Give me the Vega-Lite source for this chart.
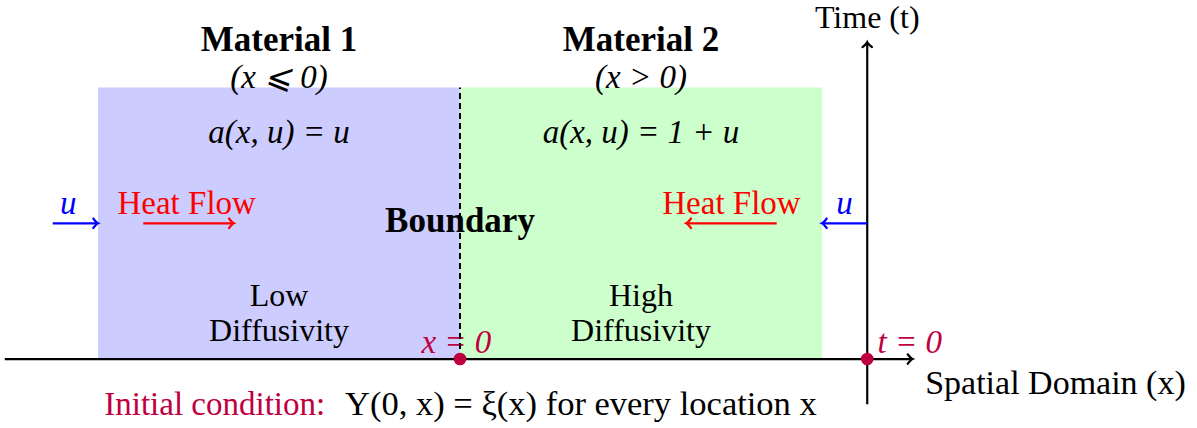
{
  "$schema": "https://vega.github.io/schema/vega-lite/v6.json",
  "width": 1197,
  "height": 428,
  "autosize": {"type": "fit", "contains": "padding"},
  "padding": 0,
  "background": "white",
  "config": {"view": {"stroke": null}},
  "encoding": {
    "x": {"field": "x", "type": "quantitative", "scale": {"domain": [-5.083, 8.144], "nice": false, "zero": false}, "axis": null},
    "y": {"field": "y", "type": "quantitative", "scale": {"domain": [-0.762, 3.967], "nice": false, "zero": false}, "axis": null}
  },
  "layer": [
    {
      "data": {"values": [{"x": -4, "x2": 0, "y": 0, "y2": 3}]},
      "mark": {"type": "rect", "fill": "#ccccff"},
      "encoding": {"x2": {"field": "x2"}, "y2": {"field": "y2"}}
    },
    {
      "data": {"values": [{"x": 0, "x2": 4, "y": 0, "y2": 3}]},
      "mark": {"type": "rect", "fill": "#ccffcc"},
      "encoding": {"x2": {"field": "x2"}, "y2": {"field": "y2"}}
    },
    {
      "data": {"values": [
        {"x": -2, "y": 3.10, "label": "(x ⩽ 0)"},
        {"x": 2, "y": 3.10, "label": "(x > 0)"},
        {"x": -2, "y": 2.50, "label": "a(x, u) = u"},
        {"x": 2, "y": 2.50, "label": "a(x, u) = 1 + u"}
      ]},
      "mark": {"type": "text", "font": "Liberation Serif", "fontSize": 33, "fontStyle": "italic", "color": "black", "baseline": "middle", "align": "center"},
      "encoding": {"text": {"field": "label"}}
    },
    {
      "data": {"values": [
        {"x": -2, "y": 0.70, "label": "Low"},
        {"x": -2, "y": 0.31, "label": "Diffusivity"},
        {"x": 2, "y": 0.70, "label": "High"},
        {"x": 2, "y": 0.31, "label": "Diffusivity"},
        {"x": 4.5, "y": 3.77, "label": "Time (t)"}
      ]},
      "mark": {"type": "text", "font": "Liberation Serif", "fontSize": 32, "color": "black", "baseline": "middle", "align": "center"},
      "encoding": {"text": {"field": "label"}}
    },
    {
      "data": {"values": [
        {"x": 5.14, "y": -0.28, "label": "Spatial Domain (x)"}
      ]},
      "mark": {"type": "text", "font": "Liberation Serif", "fontSize": 34, "color": "black", "baseline": "middle", "align": "left"},
      "encoding": {"text": {"field": "label"}}
    },
    {
      "data": {"values": [
        {"x": -1.27, "y": -0.51, "label": "Y(0, x) = ξ(x) for every location x"}
      ]},
      "mark": {"type": "text", "font": "Liberation Serif", "fontSize": 34.5, "color": "black", "baseline": "middle", "align": "left"},
      "encoding": {"text": {"field": "label"}}
    },
    {
      "data": {"values": [
        {"x": -1.49, "y": -0.51, "label": "Initial condition:"}
      ]},
      "mark": {"type": "text", "font": "Liberation Serif", "fontSize": 33, "color": "#bf0040", "baseline": "middle", "align": "right"},
      "encoding": {"text": {"field": "label"}}
    },
    {
      "data": {"values": [
        {"x": -2, "y": 3.52, "label": "Material 1"},
        {"x": 2, "y": 3.52, "label": "Material 2"},
        {"x": 0, "y": 1.52, "label": "Boundary"}
      ]},
      "mark": {"type": "text", "font": "Liberation Serif", "fontSize": 35, "fontWeight": "bold", "color": "black", "baseline": "middle", "align": "center"},
      "encoding": {"text": {"field": "label"}}
    },
    {
      "data": {"values": [
        {"x": -3.02, "y": 1.71, "label": "Heat Flow"},
        {"x": 3.0, "y": 1.71, "label": "Heat Flow"}
      ]},
      "mark": {"type": "text", "font": "Liberation Serif", "fontSize": 33, "color": "#ff0000", "baseline": "middle", "align": "center"},
      "encoding": {"text": {"field": "label"}}
    },
    {
      "data": {"values": [
        {"x": -4.33, "y": 1.71, "label": "u"},
        {"x": 4.25, "y": 1.71, "label": "u"}
      ]},
      "mark": {"type": "text", "font": "Liberation Serif", "fontSize": 33, "fontStyle": "italic", "color": "#0000ff", "baseline": "middle", "align": "center"},
      "encoding": {"text": {"field": "label"}}
    },
    {
      "data": {"values": [
        {"x": -0.04, "y": 0.18, "label": "x = 0"},
        {"x": 4.97, "y": 0.18, "label": "t = 0"}
      ]},
      "mark": {"type": "text", "font": "Liberation Serif", "fontSize": 33, "fontStyle": "italic", "color": "#bf0040", "baseline": "middle", "align": "center"},
      "encoding": {"text": {"field": "label"}}
    },
    {
      "data": {"values": [{"x": 0, "x2": 0, "y": 0, "y2": 3}]},
      "mark": {"type": "rule", "color": "black", "strokeWidth": 2, "strokeDash": [6, 4]},
      "encoding": {"x2": {"field": "x2"}, "y2": {"field": "y2"}}
    },
    {
      "data": {"values": [
        {"x": -5.03, "x2": 4.98, "y": 0, "y2": 0},
        {"x": 4.5, "x2": 4.5, "y": -0.5, "y2": 3.48}
      ]},
      "mark": {"type": "rule", "color": "black", "strokeWidth": 2.2},
      "encoding": {"x2": {"field": "x2"}, "y2": {"field": "y2"}}
    },
    {
      "data": {"values": [
        {"x": -3.5, "x2": -2.52, "y": 1.5, "y2": 1.5},
        {"x": 3.5, "x2": 2.52, "y": 1.5, "y2": 1.5}
      ]},
      "mark": {"type": "rule", "color": "#ff0000", "strokeWidth": 2.2},
      "encoding": {"x2": {"field": "x2"}, "y2": {"field": "y2"}}
    },
    {
      "data": {"values": [
        {"x": -4.5, "x2": -4.02, "y": 1.5, "y2": 1.5},
        {"x": 4.5, "x2": 4.02, "y": 1.5, "y2": 1.5}
      ]},
      "mark": {"type": "rule", "color": "#0000ff", "strokeWidth": 2.2},
      "encoding": {"x2": {"field": "x2"}, "y2": {"field": "y2"}}
    },
    {
      "data": {"values": [{"x": 5.0, "y": 0}]},
      "mark": {"type": "point", "shape": "M-1,-1 Q-0.35,-0.15 0,0 Q-0.35,0.15 -1,1", "filled": false, "color": "black", "strokeWidth": 2.2, "size": 90, "opacity": 1, "strokeCap": "round"}
    },
    {
      "data": {"values": [{"x": 4.5, "y": 3.5}]},
      "mark": {"type": "point", "shape": "M-1,-1 Q-0.35,-0.15 0,0 Q-0.35,0.15 -1,1", "filled": false, "color": "black", "strokeWidth": 2.2, "size": 90, "opacity": 1, "angle": 270, "strokeCap": "round"}
    },
    {
      "data": {"values": [{"x": -2.5, "y": 1.5}]},
      "mark": {"type": "point", "shape": "M-1,-1 Q-0.35,-0.15 0,0 Q-0.35,0.15 -1,1", "filled": false, "color": "#ff0000", "strokeWidth": 2.2, "size": 90, "opacity": 1, "strokeCap": "round"}
    },
    {
      "data": {"values": [{"x": 2.5, "y": 1.5}]},
      "mark": {"type": "point", "shape": "M-1,-1 Q-0.35,-0.15 0,0 Q-0.35,0.15 -1,1", "filled": false, "color": "#ff0000", "strokeWidth": 2.2, "size": 90, "opacity": 1, "angle": 180, "strokeCap": "round"}
    },
    {
      "data": {"values": [{"x": -4.0, "y": 1.5}]},
      "mark": {"type": "point", "shape": "M-1,-1 Q-0.35,-0.15 0,0 Q-0.35,0.15 -1,1", "filled": false, "color": "#0000ff", "strokeWidth": 2.2, "size": 90, "opacity": 1, "strokeCap": "round"}
    },
    {
      "data": {"values": [{"x": 4.0, "y": 1.5}]},
      "mark": {"type": "point", "shape": "M-1,-1 Q-0.35,-0.15 0,0 Q-0.35,0.15 -1,1", "filled": false, "color": "#0000ff", "strokeWidth": 2.2, "size": 90, "opacity": 1, "angle": 180, "strokeCap": "round"}
    },
    {
      "data": {"values": [{"x": 0, "y": 0}, {"x": 4.5, "y": 0}]},
      "mark": {"type": "circle", "color": "#bf0040", "size": 160, "opacity": 1}
    }
  ]
}
